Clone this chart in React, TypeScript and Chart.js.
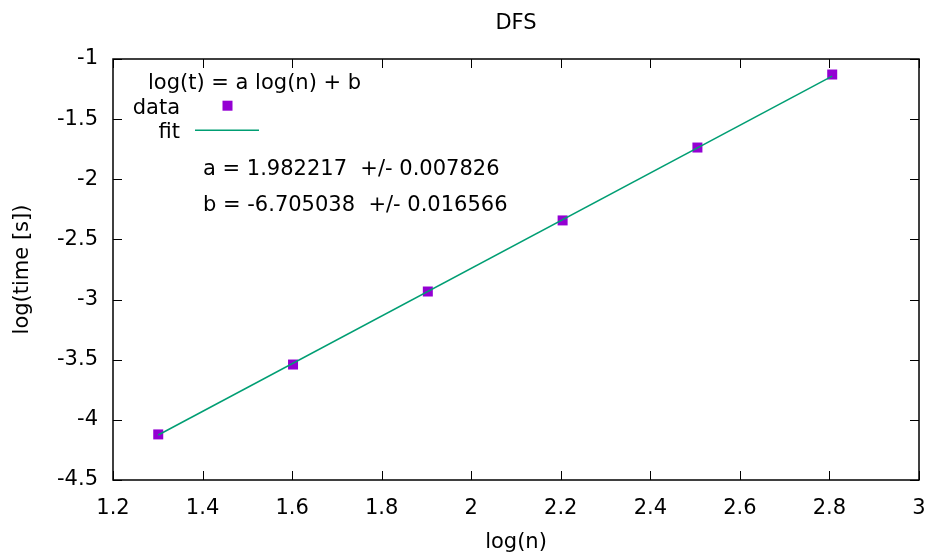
import React, { useEffect, useRef } from "react";
import { Chart, registerables } from "chart.js";

Chart.register(...registerables);

// ---- data ----
const logN = [1.30103, 1.60206, 1.90309, 2.20412, 2.50515, 2.80618];
const logT = [-4.121, -3.54, -2.933, -2.342, -1.736, -1.129];
const fitX = [1.30103, 2.80618];
const fitY = [-4.126, -1.143];
const xTicks = [1.2, 1.4, 1.6, 1.8, 2, 2.2, 2.4, 2.6, 2.8, 3];
const yTicks = [-4.5, -4, -3.5, -3, -2.5, -2, -1.5, -1];
const titleText = "DFS";
const xTitle = "log(n)";
const yTitle = "log(time [s])";
const keyTitle = "log(t) = a log(n) + b";
const keyLabels = ["data", "fit"];
const fitParams = ["a = 1.982217  +/- 0.007826", "b = -6.705038  +/- 0.016566"];

const FONT = "'DejaVu Sans', sans-serif";
const FSIZE = 21;
const PURPLE = "#9400d3";
const GREEN = "#009e73";

const fmt = (v: number) => String(Number(Number(v).toFixed(2)));

const framePlugin = {
  id: "gnuFrame",
  afterDraw(chart: any) {
    const { ctx, chartArea: a, scales } = chart;
    ctx.save();
    // inward ticks on all sides
    ctx.strokeStyle = "#000";
    ctx.lineWidth = 1;
    const tl = 9;
    ctx.beginPath();
    for (const v of xTicks) {
      const px = Math.round(scales.x.getPixelForValue(v)) + 0.5;
      ctx.moveTo(px, a.bottom);
      ctx.lineTo(px, a.bottom - tl);
      ctx.moveTo(px, a.top);
      ctx.lineTo(px, a.top + tl);
    }
    for (const v of yTicks) {
      const py = Math.round(scales.y.getPixelForValue(v)) + 0.5;
      ctx.moveTo(a.left, py);
      ctx.lineTo(a.left + tl, py);
      ctx.moveTo(a.right, py);
      ctx.lineTo(a.right - tl, py);
    }
    ctx.stroke();
    // frame
    ctx.lineWidth = 1.5;
    ctx.strokeRect(a.left, a.top, a.right - a.left, a.bottom - a.top);

    // title
    ctx.fillStyle = "#000";
    ctx.font = `${FSIZE}px ${FONT}`;
    ctx.textBaseline = "alphabetic";
    ctx.textAlign = "center";
    ctx.fillText(titleText, (a.left + a.right) / 2, a.top - 30);

    // key
    const L = a.left;
    const T = a.top;
    ctx.textAlign = "left";
    ctx.fillText(keyTitle, L + 35, T + 30);
    ctx.textAlign = "right";
    ctx.fillText(keyLabels[0], L + 67, T + 55);
    ctx.fillText(keyLabels[1], L + 67, T + 79);
    // data sample
    ctx.fillStyle = PURPLE;
    ctx.fillRect(L + 109.5, T + 41.7, 10, 10);
    // fit sample
    ctx.strokeStyle = GREEN;
    ctx.lineWidth = 1.5;
    ctx.beginPath();
    ctx.moveTo(L + 82, T + 71.3);
    ctx.lineTo(L + 146, T + 71.3);
    ctx.stroke();
    // fit params
    ctx.fillStyle = "#000";
    ctx.textAlign = "left";
    ctx.fillText(fitParams[0], L + 90, T + 116);
    ctx.fillText(fitParams[1], L + 90, T + 152);
    ctx.restore();
  },
};

export default function App() {
  const ref = useRef<HTMLCanvasElement | null>(null);
  useEffect(() => {
    if (!ref.current) return;
    Chart.defaults.font.family = FONT;
    Chart.defaults.font.size = FSIZE;
    Chart.defaults.color = "#000";
    const chart = new Chart(ref.current, {
      type: "scatter",
      data: {
        datasets: [
          {
            label: keyLabels[1],
            data: fitX.map((x, i) => ({ x, y: fitY[i] })),
            showLine: true,
            borderColor: GREEN,
            borderWidth: 1.5,
            pointRadius: 0,
            order: 0,
          },
          {
            label: keyLabels[0],
            data: logN.map((x, i) => ({ x, y: logT[i] })),
            pointStyle: "rect",
            pointRadius: 7.07,
            pointBorderWidth: 0,
            backgroundColor: PURPLE,
            borderColor: PURPLE,
            order: 1,
          },
        ],
      },
      options: {
        responsive: false,
        animation: false,
        layout: { padding: { top: 59, right: 13, left: 0, bottom: 0 } },
        plugins: {
          legend: { display: false },
          tooltip: { enabled: false },
          title: { display: false },
        },
        scales: {
          x: {
            type: "linear",
            min: 1.2,
            max: 3,
            grid: { display: false, drawTicks: true, tickLength: 16 },
            border: { display: false },
            afterBuildTicks: (s: any) => {
              s.ticks = xTicks.map((v) => ({ value: v }));
            },
            afterFit: (s: any) => {
              s.height = 78;
            },
            ticks: { padding: 0, maxRotation: 0, autoSkip: false, callback: (v: any) => fmt(v) },
            title: { display: true, text: xTitle, padding: { top: 0, bottom: 3 } },
          },
          y: {
            type: "linear",
            min: -4.5,
            max: -1,
            grid: { display: false, drawTicks: true, tickLength: 15 },
            border: { display: false },
            afterBuildTicks: (s: any) => {
              s.ticks = yTicks.map((v) => ({ value: v }));
            },
            afterFit: (s: any) => {
              s.width = 113;
            },
            ticks: { padding: 0, autoSkip: false, callback: (v: any) => fmt(v) },
            title: { display: true, text: yTitle, padding: { top: 10, bottom: 0 } },
          },
        },
      },
      plugins: [framePlugin],
    } as any);
    return () => chart.destroy();
  }, []);
  return (
    <div style={{ position: "fixed", left: 0, top: 0, width: 932, height: 558, background: "#fff" }}>
      <canvas ref={ref} width={932} height={558} />
    </div>
  );
}
